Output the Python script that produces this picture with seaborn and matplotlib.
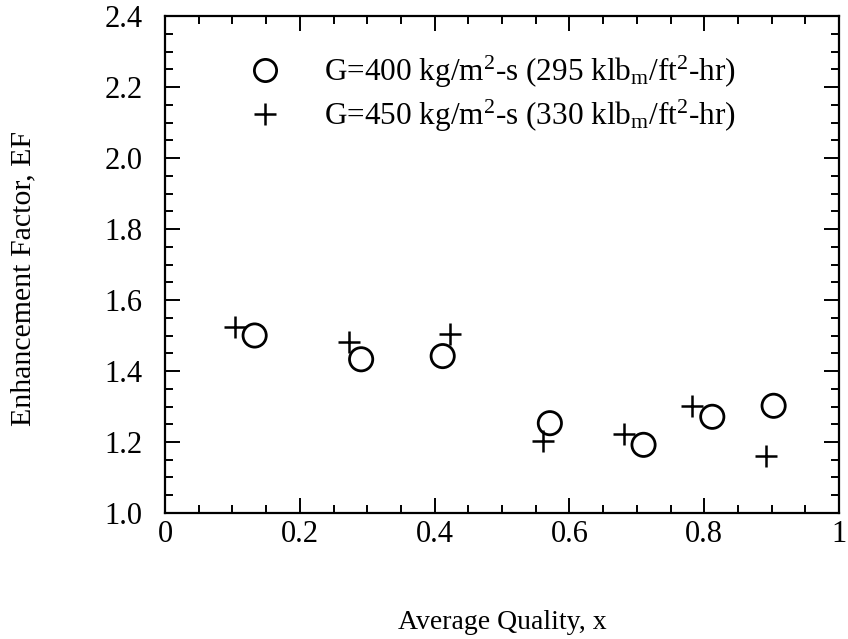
import matplotlib
matplotlib.use("Agg")
import matplotlib.pyplot as plt
from matplotlib.ticker import MultipleLocator, FixedLocator, FixedFormatter
from matplotlib.lines import Line2D
import seaborn as sns
import pandas as pd

# Data
x_g400 = [0.133, 0.291, 0.412, 0.571, 0.710, 0.812, 0.903]
y_g400 = [1.50, 1.433, 1.442, 1.253, 1.192, 1.271, 1.302]
x_g450 = [0.104, 0.273, 0.423, 0.561, 0.681, 0.782, 0.891]
y_g450 = [1.523, 1.482, 1.504, 1.203, 1.222, 1.301, 1.161]
label_g400 = r"G=400 kg/m$^{2}$-s (295 klb$_{\mathrm{m}}$/ft$^{2}$-hr)"
label_g450 = r"G=450 kg/m$^{2}$-s (330 klb$_{\mathrm{m}}$/ft$^{2}$-hr)"
xticks = [0, 0.2, 0.4, 0.6, 0.8, 1.0]
xticklabels = ["0", "0.2", "0.4", "0.6", "0.8", "1"]
yticks = [1.0, 1.2, 1.4, 1.6, 1.8, 2.0, 2.2, 2.4]
yticklabels = ["1.0", "1.2", "1.4", "1.6", "1.8", "2.0", "2.2", "2.4"]

sns.set_theme(style="white")
plt.rcParams['font.family'] = ['Liberation Serif', 'DejaVu Serif']
plt.rcParams['mathtext.fontset'] = 'custom'
plt.rcParams['mathtext.rm'] = 'Liberation Serif'
plt.rcParams['mathtext.it'] = 'Liberation Serif:italic'
plt.rcParams['mathtext.bf'] = 'Liberation Serif:bold'
for k in ['text.color', 'axes.labelcolor', 'xtick.color', 'ytick.color', 'axes.edgecolor']:
    plt.rcParams[k] = 'black'

df = pd.DataFrame({
    "x": x_g400 + x_g450,
    "y": y_g400 + y_g450,
    "series": ["G400"] * len(x_g400) + ["G450"] * len(x_g450),
})

fig = plt.figure(figsize=(8.48, 6.39), dpi=100)
ax = fig.add_axes([165/848, 1 - 513/639, 674/848, 497/639])

sns.scatterplot(data=df[df.series == "G400"], x="x", y="y", ax=ax,
                marker="o", s=280, facecolors="none", edgecolor="black",
                linewidth=2.0, legend=False, zorder=3)
sns.scatterplot(data=df[df.series == "G450"], x="x", y="y", ax=ax,
                marker="+", s=260, color="black", linewidth=1.8,
                legend=False, zorder=3)

ax.set_xlim(0, 1)
ax.set_ylim(1.0, 2.4)
ax.xaxis.set_major_locator(FixedLocator(xticks))
ax.xaxis.set_major_formatter(FixedFormatter(xticklabels))
ax.yaxis.set_major_locator(FixedLocator(yticks))
ax.yaxis.set_major_formatter(FixedFormatter(yticklabels))
ax.xaxis.set_minor_locator(MultipleLocator(0.05))
ax.yaxis.set_minor_locator(MultipleLocator(0.05))
ax.tick_params(which="both", direction="in", top=True, right=True,
               bottom=True, left=True, color="black", labelcolor="black", width=1.4)
ax.tick_params(which="major", length=11)
ax.tick_params(which="minor", length=6)
ax.tick_params(axis="x", which="major", pad=5, labelsize=22)
ax.tick_params(axis="y", which="major", pad=16, labelsize=22)
for sp in ax.spines.values():
    sp.set_color("black")
    sp.set_linewidth(1.6)
ax.grid(False)

ax.set_xlabel("Average Quality, x", fontsize=20, labelpad=44, color="black")
ax.set_ylabel("Enhancement Factor, EF", fontsize=21.5, color="black")
ax.yaxis.set_label_coords(-0.191, 0.471)

handles = [
    Line2D([], [], marker="o", linestyle="none", markersize=16,
           markerfacecolor="none", markeredgecolor="black", markeredgewidth=2.0),
    Line2D([], [], marker="+", linestyle="none", markersize=16,
           color="black", markeredgewidth=1.8),
]
leg = ax.legend(handles, [label_g400, label_g450], loc="upper left",
                bbox_to_anchor=(0.099, 0.95), frameon=False, fontsize=22.5,
                handletextpad=1.25, labelspacing=0.25, handlelength=1.3,
                borderaxespad=0)
for t in leg.get_texts():
    t.set_color("black")

fig.savefig("out.png", dpi=100)
